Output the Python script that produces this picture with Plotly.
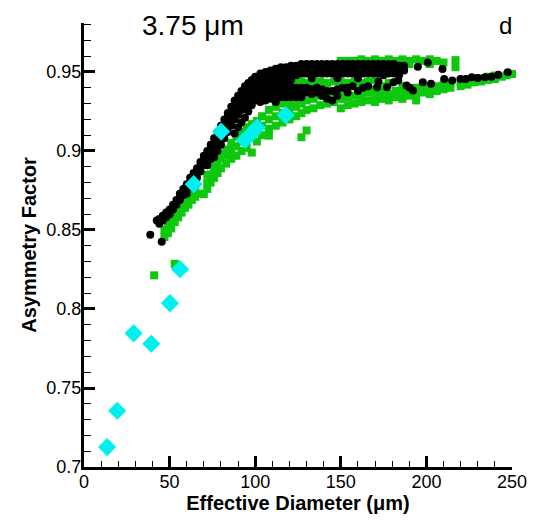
import plotly.graph_objects as go

# ---------------- data ----------------
# cyan diamonds
cyan_x = [13.5, 19.4, 29.0, 39.3, 50.2, 56.1, 64.1, 80.1, 94.0, 97.3, 101.1, 117.8]
cyan_y = [0.7126, 0.7356, 0.7846, 0.778, 0.8037, 0.8252, 0.879, 0.9123, 0.907, 0.9106, 0.9148, 0.9227]

# black circles: x columns and the y values found in each column
black_col_x = [38.7, 45.4, 42.5, 44, 46, 48, 50, 52, 54, 56, 58, 60, 62, 64, 66, 68, 70, 72, 74,
               76, 78, 80, 82, 84, 86, 88, 90, 92, 94, 96, 98, 100, 103, 106, 109, 112, 115, 118,
               121, 124, 127, 130, 133, 136, 139, 142, 145, 148, 151, 154, 157, 160, 163, 166,
               169, 171.2, 172, 175, 177, 178, 180.8, 181, 183.6, 184, 187, 188.4, 190.3, 192.2,
               195, 197.9, 200.8, 202.7, 209.4, 210.4, 215.1, 219.9, 223, 226.5, 230, 234.2,
               238, 242, 247.5]
black_col_y = [
    [0.847], [0.8425], [0.856], [0.857, 0.854], [0.859, 0.856], [0.861, 0.858],
    [0.863, 0.860], [0.866, 0.863], [0.869, 0.866], [0.873, 0.869], [0.876, 0.872],
    [0.879, 0.876, 0.873], [0.883, 0.880, 0.877], [0.886, 0.883, 0.880],
    [0.889, 0.886, 0.883], [0.893, 0.890, 0.887], [0.897, 0.894, 0.891],
    [0.900, 0.897, 0.894, 0.891], [0.904, 0.901, 0.898, 0.895],
    [0.908, 0.905, 0.902, 0.899, 0.896], [0.912, 0.909, 0.906, 0.903, 0.900],
    [0.916, 0.913, 0.910, 0.907, 0.904], [0.920, 0.917, 0.914, 0.911, 0.908],
    [0.924, 0.921, 0.918, 0.915, 0.912], [0.928, 0.925, 0.922, 0.919, 0.916],
    [0.932, 0.929, 0.926, 0.923, 0.920, 0.911], [0.935, 0.932, 0.929, 0.926, 0.923, 0.915],
    [0.938, 0.935, 0.932, 0.929, 0.926, 0.918], [0.941, 0.938, 0.935, 0.932, 0.929, 0.921],
    [0.943, 0.940, 0.937, 0.934, 0.931, 0.925], [0.945, 0.942, 0.939, 0.936, 0.933, 0.929],
    [0.947, 0.944, 0.941, 0.938, 0.935, 0.932], [0.949, 0.946, 0.943, 0.940, 0.937, 0.934, 0.931],
    [0.950, 0.947, 0.944, 0.941, 0.938, 0.935, 0.932],
    [0.951, 0.948, 0.945, 0.942, 0.939, 0.936, 0.933],
    [0.952, 0.949, 0.946, 0.943, 0.940, 0.937, 0.934, 0.931],
    [0.953, 0.950, 0.947, 0.944, 0.940, 0.937, 0.934],
    [0.953, 0.950, 0.947, 0.944, 0.940, 0.937, 0.934],
    [0.954, 0.951, 0.948, 0.945, 0.940, 0.937, 0.934],
    [0.954, 0.951, 0.948, 0.940, 0.937, 0.934],
    [0.955, 0.952, 0.949, 0.940, 0.937, 0.934],
    [0.955, 0.952, 0.949, 0.940, 0.937],
    [0.955, 0.952, 0.949, 0.946, 0.939, 0.936],
    [0.955, 0.952, 0.949, 0.940, 0.937],
    [0.955, 0.952, 0.949, 0.939, 0.935],
    [0.955, 0.952, 0.949, 0.938, 0.933],
    [0.955, 0.952, 0.949, 0.938, 0.932],
    [0.955, 0.952, 0.949, 0.946, 0.939, 0.935],
    [0.955, 0.952, 0.949, 0.940],
    [0.955, 0.952, 0.949, 0.940, 0.937],
    [0.955, 0.952, 0.949, 0.941],
    [0.955, 0.952, 0.949, 0.946, 0.938],
    [0.955, 0.952, 0.949, 0.940],
    [0.955, 0.952, 0.949, 0.941],
    [0.955, 0.952, 0.949],
    [0.9404],
    [0.955, 0.952, 0.949, 0.944],
    [0.955, 0.952, 0.948],
    [0.9404],
    [0.955, 0.952, 0.949],
    [0.9435],
    [0.955, 0.952, 0.949],
    [0.9446],
    [0.954, 0.951, 0.948],
    [0.954, 0.951],
    [0.9415],
    [0.940],
    [0.9383],
    [0.9533],
    [0.9435],
    [0.956],
    [0.9425],
    [0.9519],
    [0.9456],
    [0.9446],
    [0.9456],
    [0.9456],
    [0.9467],
    [0.9462],
    [0.9467],
    [0.947],
    [0.9482],
    [0.9498],
]

# green squares: x columns and the y values found in each column
green_col_x = [41, 53, 47, 49, 51, 53, 55, 57, 59, 61, 63, 65, 68.6, 70, 72, 74, 76, 78, 80,
               83, 86, 89, 92, 95, 98, 101, 104, 108, 112, 116, 120, 124, 127, 130, 134, 138,
               142, 146, 150, 154, 158, 162, 166, 170, 174, 178, 182, 186, 190, 194, 198, 202,
               206, 210, 214, 217, 220, 224, 228, 232, 236, 240, 244, 247, 250]
green_col_y = [
    [0.8213], [0.8286], [0.8456, 0.850], [0.848, 0.853, 0.857], [0.851, 0.856, 0.860],
    [0.855, 0.859, 0.863], [0.858, 0.862, 0.866], [0.861, 0.865, 0.869],
    [0.864, 0.868, 0.872], [0.866, 0.870, 0.875], [0.869, 0.873], [0.871, 0.876],
    [0.873], [0.8727], [0.876, 0.880, 0.885], [0.880, 0.885, 0.8915],
    [0.883, 0.888, 0.8873], [0.886, 0.891, 0.895], [0.889, 0.8956, 0.898],
    [0.892, 0.897, 0.901], [0.895, 0.900, 0.905], [0.897, 0.903, 0.909],
    [0.900, 0.906, 0.912, 0.927], [0.902, 0.908, 0.915, 0.930], [0.899, 0.910, 0.917],
    [0.906, 0.912, 0.919], [0.910, 0.916, 0.922], [0.9097, 0.914, 0.920, 0.926],
    [0.916, 0.922, 0.928, 0.940], [0.918, 0.924, 0.930], [0.920, 0.926, 0.931, 0.943],
    [0.922, 0.928, 0.933, 0.943], [0.9087, 0.924, 0.930, 0.944], [0.913, 0.926, 0.932, 0.943],
    [0.927, 0.933, 0.943], [0.929, 0.935, 0.944], [0.930, 0.936, 0.943],
    [0.931, 0.937, 0.944], [0.927, 0.933, 0.938, 0.944, 0.957], [0.929, 0.934, 0.943, 0.957],
    [0.930, 0.935, 0.944, 0.957], [0.931, 0.936, 0.943, 0.958], [0.932, 0.937, 0.944, 0.957],
    [0.931, 0.935, 0.939, 0.945, 0.958], [0.933, 0.937, 0.941, 0.957],
    [0.932, 0.936, 0.943, 0.958], [0.934, 0.938, 0.957, 0.955],
    [0.933, 0.937, 0.941, 0.958], [0.935, 0.939, 0.957, 0.955],
    [0.932, 0.936, 0.940, 0.958], [0.937, 0.941, 0.957], [0.936, 0.939, 0.958, 0.955],
    [0.938, 0.941, 0.957], [0.939, 0.942, 0.956], [0.940, 0.943], [0.9575, 0.953],
    [0.941, 0.944], [0.942, 0.945], [0.9435, 0.946], [0.944, 0.946], [0.945, 0.947],
    [0.9455, 0.9477], [0.947], [0.948], [0.9487],
]

x_tickvals = [0, 50, 100, 150, 200, 250]
x_ticktext = ["0", "50", "100", "150", "200", "250"]
y_tickvals = [0.7, 0.75, 0.8, 0.85, 0.9, 0.95]
y_ticktext = ["0.7", "0.75", "0.8", "0.85", "0.9", "0.95"]

# ---------------- expand column tables ----------------
black_x, black_y = [], []
for cx, ys in zip(black_col_x, black_col_y):
    for yv in ys:
        black_x.append(cx)
        black_y.append(yv)
green_x, green_y = [], []
for cx, ys in zip(green_col_x, green_col_y):
    for yv in ys:
        green_x.append(cx)
        green_y.append(yv)

FONT = "Liberation Sans, Arial, Helvetica, sans-serif"

fig = go.Figure()
fig.add_trace(go.Scatter(x=green_x, y=green_y, mode="markers", cliponaxis=False,
                         marker=dict(symbol="square", size=8, color="#0ec80e", line=dict(width=0)),
                         showlegend=False))
fig.add_trace(go.Scatter(x=black_x, y=black_y, mode="markers", cliponaxis=False,
                         marker=dict(symbol="circle", size=8, color="black", line=dict(width=0)),
                         showlegend=False))
fig.add_trace(go.Scatter(x=cyan_x, y=cyan_y, mode="markers", cliponaxis=False,
                         marker=dict(symbol="diamond", size=14, color="#00f0f0", line=dict(width=0)),
                         showlegend=False))

fig.update_layout(
    width=539, height=523,
    margin=dict(l=84, r=18, t=23, b=50),
    plot_bgcolor="white", paper_bgcolor="white",
    font=dict(family=FONT, color="black", size=18),
    xaxis=dict(range=[0, 250], showgrid=False, zeroline=False,
               showline=True, linecolor="black", linewidth=3,
               ticks="inside", ticklen=11, tickwidth=2.5, tickcolor="black",
               tickvals=x_tickvals, ticktext=x_ticktext, ticklabelstandoff=-4,
               tickfont=dict(size=18, family=FONT),
               minor=dict(ticks="inside", ticklen=6, tickwidth=1.2, tickcolor="black", dtick=10),
               title=dict(text="<b>Effective Diameter (μm)</b>", font=dict(size=20, family=FONT), standoff=5)),
    yaxis=dict(range=[0.7, 0.981], showgrid=False, zeroline=False,
               showline=True, linecolor="black", linewidth=3,
               ticks="inside", ticklen=11, tickwidth=2.5, tickcolor="black",
               tickvals=y_tickvals, ticktext=y_ticktext, ticklabelstandoff=-4,
               tickfont=dict(size=18, family=FONT),
               minor=dict(ticks="inside", ticklen=7, tickwidth=1.2, tickcolor="black", dtick=0.01, tick0=0.7),
               title=dict(text="<b>Asymmetry Factor</b>", font=dict(size=20, family=FONT), standoff=5)),
    annotations=[
        dict(text="3.75 μm", x=0.254, y=0.995, xref="paper", yref="paper",
             xanchor="center", yanchor="middle", showarrow=False, font=dict(size=28, family=FONT)),
        dict(text="d", x=0.985, y=0.995, xref="paper", yref="paper",
             xanchor="center", yanchor="middle", showarrow=False, font=dict(size=24, family=FONT)),
    ],
)

fig.write_html("out.html")
